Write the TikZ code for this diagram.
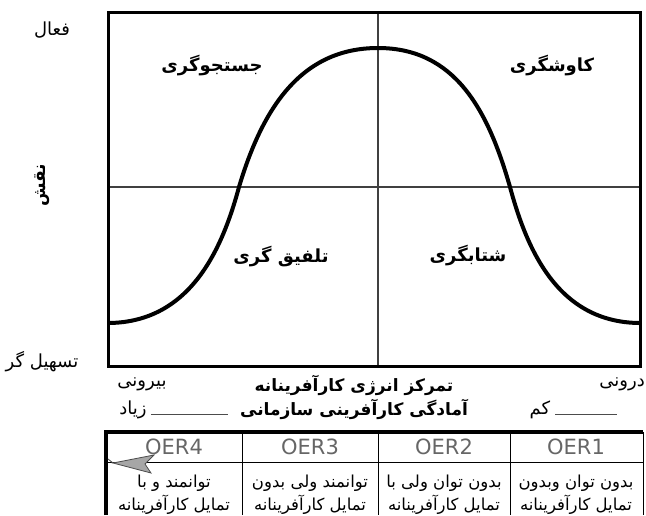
\documentclass[tikz,border=0pt]{standalone}
\usepackage{fontspec}
\setmainfont{DejaVu Sans}
\newfontfamily\fa[Script=Arabic]{DejaVu Sans}
\TeXXeTstate=1
\newcommand{\rtl}[1]{\beginR#1\endR}

\begin{document}
\begin{tikzpicture}[
  x=1pt, y=-1pt,
  every node/.style={inner sep=0pt},
  lbl/.style={font=\fa\fontsize{18}{20}\selectfont},
  quad/.style={font=\fa\bfseries\fontsize{18}{20}\selectfont},
  ttl/.style={font=\fa\bfseries\fontsize{17}{20}\selectfont},
  oer/.style={font=\fontsize{21}{23}\selectfont, text=black!60},
  cell/.style={font=\fa\fontsize{16.5}{23}\selectfont, align=center},
  frame/.style={line width=3pt, draw=black},
  mid/.style={line width=1.3pt, draw=black!75},
  bell/.style={line width=4pt, draw=black, line cap=round},
  rule/.style={line width=0.8pt, draw=black!70}
]
\useasboundingbox (0,0) rectangle (646,515);

% Quadrant chart
\draw[mid] (108,187) -- (640,187);
\draw[mid] (378,12) -- (378,366);
\draw[frame] (108,12) rectangle (640,366);

% Bell curve
\draw[bell] (109,323) .. controls (190,322) and (222,250) .. (239,187)
  .. controls (262,110) and (300,48) .. (378,48)
  .. controls (455,48) and (488,110) .. (510,187)
  .. controls (527,250) and (558,322) .. (639,323);

% Quadrant labels
\node[quad] (explore) at (212,66) {\rtl{جستجوگری}};
\node[quad] (probe) at (552,66) {\rtl{کاوشگری}};
\node[quad] (blend) at (281,257) {\rtl{تلفیق گری}};
\node[quad] (accel) at (468,256) {\rtl{شتابگری}};

% Axis labels
\node[lbl] (active) at (52,30) {\rtl{فعال}};
\node[lbl, font=\fa\bfseries\fontsize{17}{19}\selectfont, rotate=90] (role) at (42,185) {\rtl{نقش}};
\node[lbl] (facil) at (42,362) {\rtl{تسهیل گر}};
\node[lbl] (outer) at (142,384) {\rtl{بیرونی}};
\node[lbl, anchor=east] (inner) at (645,384) {\rtl{درونی}};
\node[lbl] (high) at (133,410) {\rtl{زیاد}};
\node[lbl] (low) at (540,410) {\rtl{کم}};
\coordinate (highend) at (228,414);
\coordinate (lowend) at (617,414);
\draw[rule] (high.east) ++(4,4) -- (highend);
\draw[rule] (low.east) ++(5,4) -- (lowend);

% Title
\node[ttl] (title) at (354,385) {\rtl{تمرکز انرژی کارآفرینانه}};
\node[ttl] (subtitle) at (354,409) {\rtl{آمادگی کارآفرینی سازمانی}};

% Table
\draw[line width=0.8pt] (106,462) -- (643,462);
\foreach \x in {242,378,510}
  \draw[line width=0.8pt] (\x,432) -- (\x,515);
\draw[line width=0.8pt] (643,432) -- (643,515);
\draw[line width=4pt] (106,515) -- (106,432) -- (643,432);

\node[oer] (oer4) at (174,447) {OER4};
\node[oer] (oer3) at (310,447) {OER3};
\node[oer] (oer2) at (444,447) {OER2};
\node[oer] (oer1) at (576,447) {OER1};

\node[cell] (c4) at (174,495) {\rtl{توانمند و با}\\\rtl{تمایل کارآفرینانه}};
\node[cell] (c3) at (310,495) {\rtl{توانمند ولی بدون}\\\rtl{تمایل کارآفرینانه}};
\node[cell] (c2) at (444,495) {\rtl{بدون توان ولی با}\\\rtl{تمایل کارآفرینانه}};
\node[cell] (c1) at (576,495) {\rtl{بدون توان وبدون}\\\rtl{تمایل کارآفرینانه}};

% Pointer
\draw[fill=black!35, draw=black!70, line width=0.8pt]
  (113,463) -- (154,455) -- (145,464) -- (151,473) -- cycle;
\draw[black!70, line width=0.8pt] (108,459) -- (113,463);

\end{tikzpicture}
\end{document}
